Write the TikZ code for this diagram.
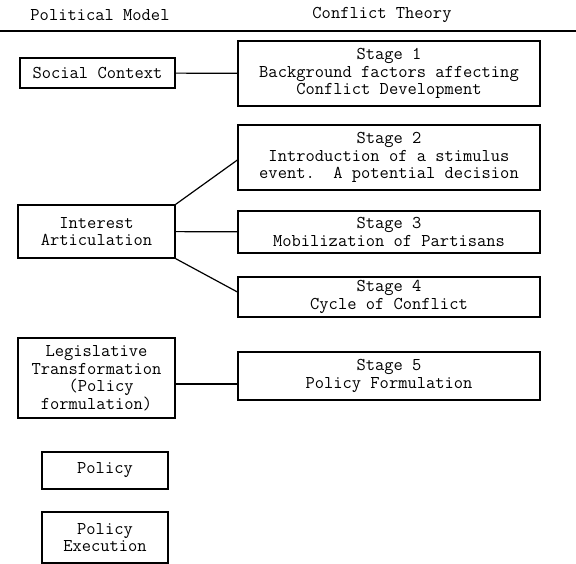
\documentclass[tikz,border=0pt]{standalone}
\tikzset{
  box/.style={draw, line width=1.2pt, inner sep=0pt, align=center,
    font=\ttfamily\fontsize{18}{17.5}\selectfont},
  head/.style={font=\ttfamily\fontsize{18}{17.5}\selectfont},
  link/.style={line width=1.2pt}
}
\begin{document}
\begin{tikzpicture}[x=1pt, y=-1pt]
  \useasboundingbox (0,0) rectangle (576,564);
  %\draw[help lines, step=50] (0,0) grid (576,564);

  % column heads
  \node [head] (polhead) at (100,15) {Political Model};
  \node [head] (confhead) at (382,15) {Conflict Theory};
  \draw [link] (0,31) -- (576,31);

  % political model
  \node [box, minimum width=155, minimum height=30] (social) at (97.5,73) {Social Context};
  \node [box, minimum width=157, minimum height=53] (interest) at (96.5,231.5) {Interest\\Articulation};
  \node [box, minimum width=157, minimum height=80] (legis) at (96.5,378) {Legislative\\Transformation\\\ (Policy\\formulation)};
  \node [box, minimum width=126, minimum height=37] (policy) at (105,470.5) {Policy};
  \node [box, minimum width=126, minimum height=51] (execution) at (105,537.5) {Policy\\Execution};

  % conflict theory
  \node [box, minimum width=302, minimum height=65] (stageone) at (389,73.5) {Stage 1\\Background factors affecting\\Conflict Development};
  \node [box, minimum width=302, minimum height=65] (stagetwo) at (389,157.5) {Stage 2\\Introduction of a stimulus\\event.\ \ A potential decision};
  \node [box, minimum width=302, minimum height=42] (stagethree) at (389,232) {Stage 3\\Mobilization of Partisans};
  \node [box, minimum width=302, minimum height=40] (stagefour) at (389,297) {Stage 4\\Cycle of Conflict};
  \node [box, minimum width=302, minimum height=48] (stagefive) at (389,376) {Stage 5\\Policy Formulation};
  \coordinate (legjoin) at ([yshift=-8pt]stagefive.west);

  \draw [link] (social) -- (stageone);
  \draw [link] (interest.north east) -- ([yshift=-2.5pt]stagetwo.west);
  \draw [link] (interest) -- (stagethree);
  \draw [link] (interest.south east) -- ([yshift=5pt]stagefour.west);
  \draw [link] (legjoin -| legis.east) -- (legjoin);
\end{tikzpicture}
\end{document}
